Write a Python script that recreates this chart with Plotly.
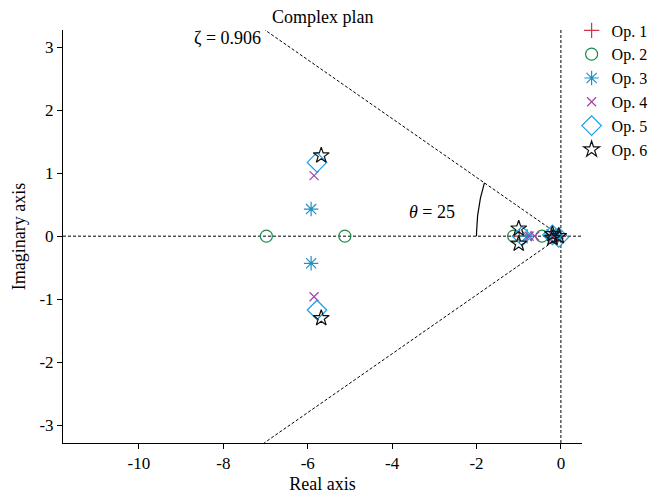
import numpy as np
import plotly.graph_objects as go

# ---- data ----
op1_re = [-0.98, -0.22, -0.08]
op1_im = [0.0, 0.0, 0.0]
op2_re = [-6.98, -5.12, -1.12, -0.45, -0.12]
op2_im = [0.0, 0.0, 0.0, 0.0, 0.0]
op3_re = [-5.92, -5.92, -0.80, -0.22, -0.10]
op3_im = [0.43, -0.43, 0.0, 0.03, -0.03]
op4_re = [-5.85, -5.85, -0.75, -0.62, -0.15]
op4_im = [0.96, -0.96, 0.0, 0.0, 0.0]
op5_re = [-5.78, -5.78, -0.92, -0.20, -0.05]
op5_im = [1.17, -1.17, 0.0, 0.02, -0.02]
op6_re = [-5.68, -5.68, -1.00, -1.00, -0.20, -0.20, -0.05]
op6_im = [1.28, -1.30, 0.12, -0.12, 0.03, -0.03, 0.0]

theta_deg = 25
zeta = 0.906
arc_radius = 2.0
x_range = [-11.8, 0.5]
y_range = [-3.28, 3.27]
x_ticks = [-10, -8, -6, -4, -2, 0]
x_ticklabels = ["-10", "-8", "-6", "-4", "-2", "0"]
y_ticks = [-3, -2, -1, 0, 1, 2, 3]
y_ticklabels = ["-3", "-2", "-1", "0", "1", "2", "3"]

FONT = "Liberation Serif"
fig = go.Figure()

dash = "3px,2px"
fig.add_trace(go.Scatter(x=x_range, y=[0, 0], mode="lines", line=dict(color="black", width=1, dash=dash),
                         showlegend=False, hoverinfo="skip"))
fig.add_trace(go.Scatter(x=[0, 0], y=y_range, mode="lines", line=dict(color="black", width=1, dash=dash),
                         showlegend=False, hoverinfo="skip"))
t = np.tan(np.radians(theta_deg))
for yend in (y_range[1], y_range[0]):
    fig.add_trace(go.Scatter(x=[0, -abs(yend) / t], y=[0, yend], mode="lines",
                             line=dict(color="black", width=1, dash=dash),
                             showlegend=False, hoverinfo="skip"))
ang = np.radians(np.linspace(180 - theta_deg, 180, 40))
fig.add_trace(go.Scatter(x=arc_radius * np.cos(ang), y=arc_radius * np.sin(ang), mode="lines",
                         line=dict(color="black", width=1.2), showlegend=False, hoverinfo="skip"))

series = [
    ("Op. 1", op1_re, op1_im, "cross-thin-open", "#d0354a", 11),
    ("Op. 2", op2_re, op2_im, "circle-open", "#1e8a4c", 12),
    ("Op. 3", op3_re, op3_im, "asterisk-open", "#1f8fc4", 12),
    ("Op. 4", op4_re, op4_im, "x-thin-open", "#a640a8", 9),
    ("Op. 5", op5_re, op5_im, "diamond-open", "#1a9ee8", 15),
    ("Op. 6", op6_re, op6_im, "star-open", "#111111", 12),
]
for name, xr, yi, sym, col, sz in series:
    fig.add_trace(go.Scatter(x=xr, y=yi, mode="markers", name=name,
                             marker=dict(symbol=sym, size=sz, color=col,
                                         line=dict(color=col, width=1.2))))

fig.add_annotation(text="Complex plan", x=0.5, y=1, xref="paper", yref="paper",
                   yanchor="bottom", yshift=1, showarrow=False, font=dict(family=FONT, size=18, color="black"))
fig.add_annotation(text="\u03b6 = 0.906", x=-7.9, y=1.01, xref="x", yref="paper",
                   showarrow=False, font=dict(family=FONT, size=18, color="black"))
fig.add_annotation(text="<i>\u03b8</i> = 25", x=-3.05, y=0.38, xref="x", yref="y",
                   showarrow=False, font=dict(family=FONT, size=18, color="black"))

axis_common = dict(showgrid=False, zeroline=False, showline=True, linecolor="black", linewidth=1,
                   ticks="outside", ticklen=5, tickcolor="black", automargin=False,
                   tickfont=dict(family=FONT, size=17, color="black"))
fig.update_xaxes(range=x_range, tickvals=x_ticks, ticktext=x_ticklabels,
                 title=dict(text="Real axis", font=dict(family=FONT, size=18, color="black"), standoff=4),
                 **axis_common)
fig.update_yaxes(range=y_range, tickvals=y_ticks, ticktext=y_ticklabels,
                 title=dict(text="Imaginary axis", font=dict(family=FONT, size=18, color="black"), standoff=9),
                 **axis_common)

# page body has an 8px margin; compensate so the plot lands where the reference has it
fig.update_layout(width=660, height=487, margin=dict(l=55, r=86, t=22, b=52, autoexpand=False),
                  plot_bgcolor="white", paper_bgcolor="white",
                  font=dict(family=FONT, size=16, color="black"),
                  legend=dict(x=0.98, y=1.04, xanchor="left", yanchor="top",
                              font=dict(family=FONT, size=16, color="black"),
                              itemwidth=30, tracegroupgap=0, bgcolor="rgba(0,0,0,0)"),
                  showlegend=True)
fig.write_html("out.html")
